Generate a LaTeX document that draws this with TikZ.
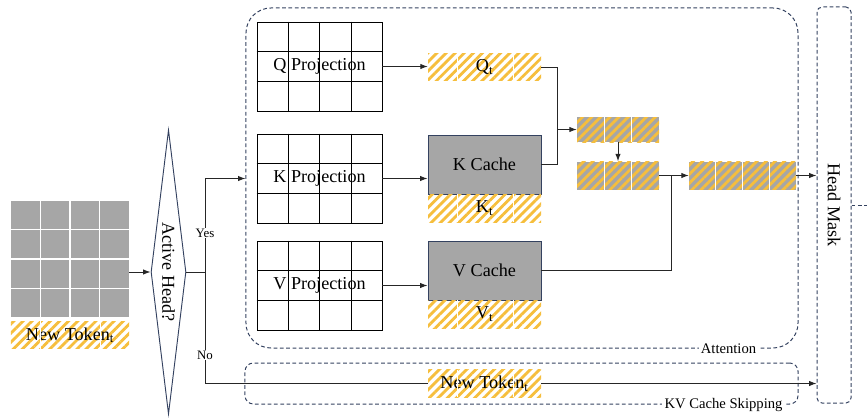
\documentclass[tikz,border=0pt]{standalone}
\usepackage{fontspec}
\setmainfont{Liberation Serif}
\usepackage{tikz}
\usetikzlibrary{shapes.geometric,arrows.meta,positioning,calc,patterns.meta}

\definecolor{hatchyellow}{RGB}{246,190,60}
\definecolor{cachegray}{RGB}{166,166,166}
\definecolor{frameblue}{RGB}{52,66,96}

\newcommand{\colsplit}[3]{\foreach \f in {#2} \draw[#3] ($(#1.north west)!\f!(#1.north east)$) -- ($(#1.south west)!\f!(#1.south east)$);}
\newcommand{\rowsplit}[3]{\foreach \f in {#2} \draw[#3] ($(#1.north west)!\f!(#1.south west)$) -- ($(#1.north east)!\f!(#1.south east)$);}

\begin{document}
\begin{tikzpicture}[
			x=0.03cm, y=-0.03cm,
			font=\fontsize{15.5}{18}\selectfont,
			proj/.style={rectangle, draw, line width=0.8pt, minimum width=3.75cm, minimum height=2.67cm, inner sep=0pt},
			cache/.style={rectangle, draw=frameblue, line width=0.8pt, fill=cachegray, minimum width=3.39cm, minimum height=1.77cm, inner sep=0pt},
			basehatch/.style={rectangle, pattern={Lines[angle=45,distance=5.5pt,line width=2.4pt]}, pattern color=hatchyellow, minimum width=3.39cm, minimum height=0.82cm, inner sep=0pt},
			hatch/.style={basehatch, preaction={fill=white}},
			mixed/.style={basehatch, preaction={fill=cachegray}, minimum height=0.84cm},
			dashline/.style={draw=frameblue, dash pattern=on 3.2pt off 2.2pt, line width=0.85pt},
			dashbox/.style={rectangle, dashline},
			lbl/.style={fill=white, inner sep=2pt, font=\fontsize{12.5}{15}\selectfont},
			yn/.style={fill=white, inner sep=1pt, font=\fontsize{11}{13}\selectfont},
			wire/.style={line width=0.8pt, black!85},
			arr/.style={wire, -{Latex[length=2.2mm,width=1.6mm]}},
			cellsep/.style={white, line width=1pt},
			faint/.style={white, line width=0.5pt}
			]
			\useasboundingbox (0,0) rectangle (867,417);
			\node[rectangle, fill=cachegray, minimum width=3.54cm, minimum height=3.48cm, inner sep=0pt] (mat) at (70,259) {};
			\colsplit{mat}{0.25,0.5,0.75}{cellsep}
			\rowsplit{mat}{0.25,0.5,0.75}{cellsep}
			\node[hatch, minimum width=3.54cm, below=0.09cm of mat] (tok) {New Token\textsubscript{t}};
			\colsplit{tok}{0.25,0.75}{faint}
			\node[diamond, draw=frameblue, line width=0.8pt, aspect=0.125, minimum width=1.05cm, minimum height=8.52cm, inner sep=0pt] (dia) at (168.5,272) {\rotatebox{-90}{Active Head?}};
			\draw[arr] (mat.east |- dia.west) -- (dia.west);
			\coordinate (br) at ([xshift=0.57cm]dia.east);
			\draw[wire] (dia.east) -- (br);
			\node[dashbox, rounded corners=0.75cm, minimum width=16.56cm, minimum height=10.2cm] (att) at (522,178) {};
			\node[lbl] (attlbl) at ([xshift=-2.1cm]att.south east) {Attention};
			\node[dashbox, rounded corners=0.25cm, minimum width=16.59cm, minimum height=1.23cm] (kv) at (521.5,383.5) {};
			\node[lbl] (kvlbl) at ([xshift=-2.25cm]kv.south east) {KV Cache Skipping};
			\node[dashbox, rounded corners=0.15cm, minimum width=1.02cm, minimum height=11.88cm] (mask) at (834,205) {\rotatebox{-90}{Head Mask}};
			\coordinate (edge) at (867,205);
			\draw[dashline] (mask.east) -- (edge);
			\foreach \n/\y/\t in {qp/66.5/Q, kp/178.5/K, vp/285.5/V} {
				\node[proj] (\n) at (319.5,\y) {\t\ Projection};
				\colsplit{\n}{0.25,0.5,0.75}{line width=0.8pt}
				\rowsplit{\n}{0.3333,0.6667}{line width=0.8pt}
			}
			\node[hatch] (qt) at (484.5,67) {Q\textsubscript{t}};
			\node[cache] (kc) at (484.5,164.5) {K Cache};
			\node[hatch, below=0pt of kc] (kt) {K\textsubscript{t}};
			\node[cache] (vc) at (484.5,270.5) {V Cache};
			\node[hatch, below=0pt of vc] (vt) {V\textsubscript{t}};
			\colsplit{qt}{0.26,0.75}{faint}
			\colsplit{kt}{0.26,0.75}{faint}
			\colsplit{vt}{0.26,0.75}{faint}
			\draw[arr] (qp.east) -- (qp.east -| qt.west);
			\draw[arr] (kp.east) -- (kp.east -| kc.west);
			\draw[arr] (vp.east) -- (vp.east -| vc.west);
			\node[mixed, minimum width=2.46cm, minimum height=0.75cm] (b1) at (618,129.5) {};
			\node[mixed, minimum width=2.46cm] (b2) at (618,175.5) {};
			\node[mixed, minimum width=3.21cm] (res) at (742.5,175.5) {};
			\colsplit{b1}{0.3333,0.6667}{cellsep}
			\colsplit{b2}{0.3333,0.6667}{cellsep}
			\colsplit{res}{0.25,0.5,0.75}{cellsep}
			\coordinate (qk) at ([xshift=-0.57cm]b1.west);
			\draw[wire] (qt.east) -| (qk);
			\draw[wire] (kc.east) -| (qk);
			\draw[arr] (qk) -- (b1.west);
			\draw[arr] (b1) -- (b2);
			\coordinate (vj) at ([xshift=-0.51cm]res.west);
			\draw[wire] (vc.east) -| (vj);
			\draw[arr] (b2.east) -- (res.west);
			\draw[arr] (res.east) -- (res.east -| mask.west);
			\draw[arr] (br) |- (kp.west -| att.west);
			\draw[arr] (br) |- (kv.center -| mask.west);
			\node[hatch] (nt) at (kv.center -| qt) {New Token\textsubscript{t}};
			\colsplit{nt}{0.26,0.75}{faint}
			\node[yn] (yes) at (205,233) {Yes};
			\node[yn] (no) at (205,355) {No};
		\end{tikzpicture}
\end{document}
